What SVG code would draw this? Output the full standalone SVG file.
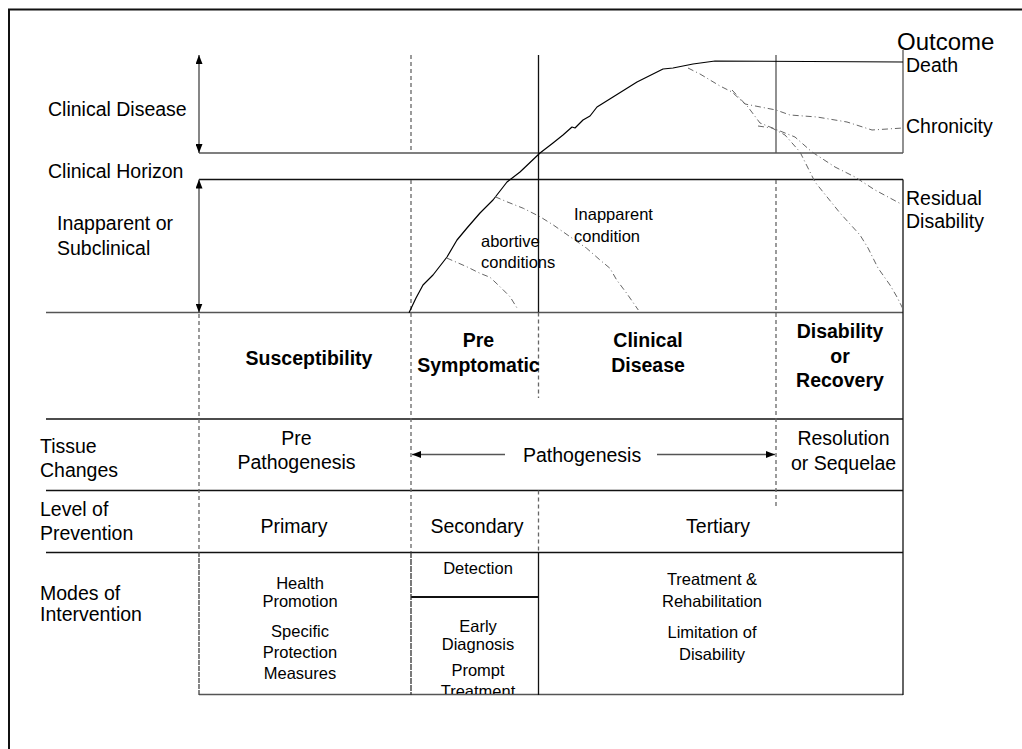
<svg xmlns="http://www.w3.org/2000/svg" width="1022" height="749" viewBox="0 0 1022 749">
<style>
text{font-family:"Liberation Sans",Arial,sans-serif;fill:#000}
.t{font-size:19.5px}
.b{font-size:19.5px;font-weight:bold}
.s{font-size:16.5px}
.m{text-anchor:middle}
.ln{stroke:#111;stroke-width:1.3;fill:none}
.gr{stroke:#555;stroke-width:1.3;fill:none}
.da{stroke:#666;stroke-width:1.3;fill:none;stroke-dasharray:4,3}
.dd{stroke:#666;stroke-width:1;fill:none;stroke-dasharray:6,3,1,3}
.cv{stroke:#000;stroke-width:1.2;fill:none;stroke-linejoin:round}
</style>
<defs>
<marker id="ah" viewBox="0 0 9 7" markerWidth="9" markerHeight="7" refX="9" refY="3.5" orient="auto-start-reverse" markerUnits="userSpaceOnUse">
<path d="M0,0 L9,3.5 L0,7 Z" fill="#000"/>
</marker>
<clipPath id="clipTreat"><rect x="400" y="600" width="140" height="94"/></clipPath>
</defs>
<rect width="1022" height="749" fill="#fff"/>
<path d="M9,749 V9.5 H1022" fill="none" stroke="#111" stroke-width="2"/>

<g id="connectors">
<!-- horizontal grid -->
<line class="gr" x1="199" y1="153" x2="903" y2="153"/>
<line class="ln" x1="199" y1="179.5" x2="903" y2="179.5"/>
<line class="gr" x1="46" y1="312.5" x2="903" y2="312.5"/>
<line class="ln" x1="46" y1="419" x2="903" y2="419"/>
<line class="ln" x1="46" y1="490.5" x2="903" y2="490.5"/>
<line class="ln" x1="46" y1="552.5" x2="903" y2="552.5"/>
<line class="gr" x1="199" y1="694.5" x2="903" y2="694.5"/>
<line x1="411" y1="597" x2="538" y2="597" stroke="#111" stroke-width="2"/>
<!-- right border -->
<line class="gr" x1="903" y1="50" x2="903" y2="153"/>
<line class="ln" x1="903" y1="179.5" x2="903" y2="695"/>
<!-- arrows left -->
<line x1="199" y1="55" x2="199" y2="153" stroke="#444" stroke-width="1.3" marker-start="url(#ah)" marker-end="url(#ah)"/>
<line x1="199" y1="179.5" x2="199" y2="312.5" stroke="#444" stroke-width="1.3" marker-start="url(#ah)" marker-end="url(#ah)"/>
<!-- vertical dashed / solid -->
<line class="da" x1="199" y1="314" x2="199" y2="552"/>
<line x1="199" y1="552" x2="199" y2="695" stroke="#444" stroke-width="1.3" stroke-dasharray="5,1"/>
<line class="da" x1="411" y1="55" x2="411" y2="153"/>
<line class="da" x1="411" y1="180" x2="411" y2="552"/>
<line x1="411" y1="552" x2="411" y2="695" stroke="#333" stroke-width="1.3" stroke-dasharray="6,1"/>
<line class="ln" x1="538.5" y1="55" x2="538.5" y2="312.5"/>
<line class="da" x1="538.5" y1="312.5" x2="538.5" y2="398" stroke="#222"/>
<line class="da" x1="538.5" y1="490.5" x2="538.5" y2="552" stroke="#222"/>
<line class="ln" x1="538.5" y1="552" x2="538.5" y2="695"/>
<line class="gr" x1="776" y1="55" x2="776" y2="153"/>
<line class="da" x1="776" y1="180" x2="776" y2="508"/>
<!-- pathogenesis arrows -->
<line class="gr" x1="505" y1="454.5" x2="412" y2="454.5" marker-end="url(#ah)"/>
<line class="gr" x1="657" y1="454.5" x2="775" y2="454.5" marker-end="url(#ah)"/>
<!-- main curve -->
<polyline class="cv" points="409,312.7 416,298 423,285 433,275 447,257 457,240 467,228 480,213 493,200 507,182 520,172 540,153 553,143 563,135 572,127 575,128 579,124 583,120 590,116 597,107 613,97 637,82 663,69 673,68 693,64 715,61 903,62"/>
<!-- dash-dot curves -->
<polyline class="dd" points="446.7,258 466.7,266.7 480,273.3 490,277.3 500,286.7 510,296.7 518.3,310"/>
<polyline class="dd" points="495,196.7 506.7,201.7 523.3,208.3 540,216.7 553.3,225 570,236.7 586.7,248.3 600,260 610,268.3 616.7,280 626.7,293.3 638.3,310"/>
<polyline class="dd" points="688,68 700,74 720,86 732,92 745,104 776,110 790,115 817,117 847,122 872,130 903,128"/>
<polyline class="dd" points="732,90 748,107 760,123 775,129 795,137 812,152 835,167 855,177 875,190 903,205"/>
<polyline class="dd" points="758,126 772,128 785,135 800,152 815,182 840,213 860,235 868,248 878,268 890,285 897,297 903,309"/>
</g>

<g id="outcome">
<text x="897" y="50" style="font-size:24px">Outcome</text>
<text class="t" x="906" y="72">Death</text>
<text class="t" x="906" y="133">Chronicity</text>
<text class="t" x="906" y="205">Residual</text>
<text class="t" x="906" y="228">Disability</text>
</g>

<g id="left-labels">
<text class="t" x="48" y="116">Clinical Disease</text>
<text class="t" x="48" y="178">Clinical Horizon</text>
<text class="t" x="57" y="230">Inapparent or</text>
<text class="t" x="57" y="255">Subclinical</text>
<text class="t" x="40" y="453">Tissue</text>
<text class="t" x="40" y="477">Changes</text>
<text class="t" x="40" y="516">Level of</text>
<text class="t" x="40" y="540">Prevention</text>
<text class="t" x="40" y="600">Modes of</text>
<text class="t" x="40" y="621">Intervention</text>
</g>

<g id="curve-labels">
<text class="s" x="481" y="247">abortive</text>
<text class="s" x="481" y="268">conditions</text>
<text class="s" x="574" y="220">Inapparent</text>
<text class="s" x="574" y="242">condition</text>
</g>

<g id="stage-susceptibility"><text class="b m" x="309" y="365">Susceptibility</text></g>
<g id="stage-presymptomatic">
<text class="b m" x="478.5" y="347">Pre</text>
<text class="b m" x="478.5" y="372">Symptomatic</text>
</g>
<g id="stage-clinical">
<text class="b m" x="648" y="347">Clinical</text>
<text class="b m" x="648" y="372">Disease</text>
</g>
<g id="stage-disability">
<text class="b m" x="840" y="338">Disability</text>
<text class="b m" x="840" y="362.5">or</text>
<text class="b m" x="840" y="387">Recovery</text>
</g>

<g id="tissue-pre">
<text class="t m" x="296.5" y="445">Pre</text>
<text class="t m" x="296.5" y="469">Pathogenesis</text>
</g>
<g id="tissue-patho"><text class="t" x="523" y="462">Pathogenesis</text></g>
<g id="tissue-resolution">
<text class="t m" x="843.5" y="445">Resolution</text>
<text class="t m" x="843.5" y="470">or Sequelae</text>
</g>

<g id="prev-primary"><text class="t m" x="294" y="533">Primary</text></g>
<g id="prev-secondary"><text class="t m" x="477" y="533">Secondary</text></g>
<g id="prev-tertiary"><text class="t m" x="718" y="533">Tertiary</text></g>

<g id="mode-primary">
<text class="s m" x="300" y="589">Health</text>
<text class="s m" x="300" y="607">Promotion</text>
<text class="s m" x="300" y="637">Specific</text>
<text class="s m" x="300" y="658">Protection</text>
<text class="s m" x="300" y="679">Measures</text>
</g>
<g id="mode-detection"><text class="s m" x="478" y="574">Detection</text></g>
<g id="mode-early">
<text class="s m" x="478" y="632">Early</text>
<text class="s m" x="478" y="650">Diagnosis</text>
<text class="s m" x="478" y="676">Prompt</text>
<text class="s m" x="478" y="697" clip-path="url(#clipTreat)">Treatment</text>
</g>
<g id="mode-tertiary">
<text class="s m" x="712" y="585">Treatment &amp;</text>
<text class="s m" x="712" y="607">Rehabilitation</text>
<text class="s m" x="712" y="638">Limitation of</text>
<text class="s m" x="712" y="660">Disability</text>
</g>
</svg>
